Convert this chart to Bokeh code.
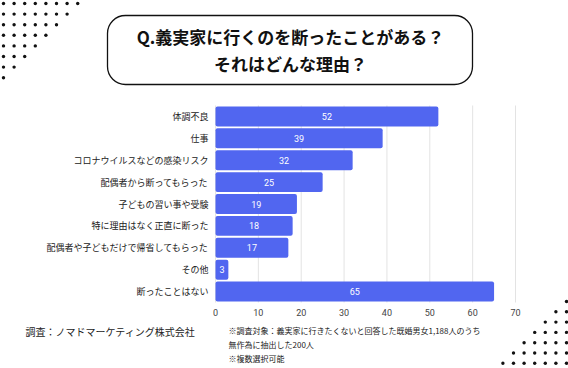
from bokeh.plotting import figure
from bokeh.models import Range1d, FixedTicker, ColumnDataSource
from bokeh.core.properties import value
from bokeh.embed import file_html
from bokeh.resources import INLINE

categories = ["体調不良", "仕事", "コロナウイルスなどの感染リスク", "配偶者から断ってもらった",
              "子どもの習い事や受験", "特に理由はなく正直に断った",
              "配偶者や子どもだけで帰省してもらった", "その他", "断ったことはない"]
counts = [52, 39, 32, 25, 19, 18, 17, 3, 65]
x_ticks = [0, 10, 20, 30, 40, 50, 60, 70]

title_lines = ["Q.義実家に行くのを断ったことがある？", "それはどんな理由？"]
source_text = "調査：ノマドマーケティング株式会社"
notes = ["※調査対象：義実家に行きたくないと回答した既婚男女1,188人のうち",
         "無作為に抽出した200人",
         "※複数選択可能"]

W, H = 568, 368
FL, FR, FT, FB = 215, 515, 105, 302   # plot area in canvas px
XMAX = 70
NCAT = len(categories)
PITCH = (FB - FT) / NCAT
C0 = FT + PITCH / 2                     # centre of first category in px

# data ranges chosen so that the whole canvas is the frame
x_range = Range1d((0 - FL) * XMAX / (FR - FL), (W - FL) * XMAX / (FR - FL))
y_range = Range1d((H - C0) / PITCH, (0 - C0) / PITCH)   # index grows downward

p = figure(width=W, height=H, output_backend="svg", toolbar_location=None,
           x_range=x_range, y_range=y_range, min_border=0, title=None)
p.outline_line_color = None
p.background_fill_color = "white"
p.border_fill_color = "white"
p.grid.visible = False

def dx(px):
    return (px - FL) * XMAX / (FR - FL)

def dy(py):
    return (py - C0) / PITCH

idx = list(range(NCAT))
src = ColumnDataSource(dict(i=idx, val=counts, mid=[v / 2 for v in counts],
                            lab=[str(v) for v in counts]))

# grid lines at the ticks, spanning the category band
p.segment(x0=x_ticks, x1=x_ticks, y0=[-0.5] * len(x_ticks), y1=[NCAT - 0.5] * len(x_ticks),
          line_color="#e3e3e3", line_width=1)

p.hbar(y="i", right="val", left=0, height=0.91, source=src,
       fill_color="#5166F0", line_color=None, border_radius=2)
p.text(x="mid", y="i", text="lab", source=src, text_color="white",
       text_font=value("Roboto"), text_font_size="9px", text_align="center",
       text_baseline="middle")

xa = p.xaxis[0]
xa.fixed_location = NCAT - 0.5
xa.ticker = FixedTicker(ticks=x_ticks)
xa.axis_line_color = None
xa.major_tick_line_color = None
xa.minor_tick_line_color = None
xa.major_tick_out = 0
xa.major_tick_in = 0
xa.major_label_standoff = 6
xa.major_label_text_font = "Roboto"
xa.major_label_text_font_size = "9px"
xa.major_label_text_color = "#444444"

ya = p.yaxis[0]
ya.fixed_location = 0
ya.ticker = FixedTicker(ticks=idx)
ya.major_label_overrides = {i: c for i, c in zip(idx, categories)}
ya.axis_line_color = None
ya.major_tick_line_color = None
ya.minor_tick_line_color = None
ya.major_tick_out = 0
ya.major_tick_in = 0
ya.major_label_standoff = 7
ya.major_label_text_font = "Noto Sans CJK JP"
ya.major_label_text_font_size = "9px"
ya.major_label_text_color = "#222222"

# title box
p.quad(left=[dx(107)], right=[dx(472)], top=[dy(15)], bottom=[dy(84)],
       fill_color="white", line_color="#111111", line_width=1.3, border_radius=18)
p.text(x=[dx(290)] * 2, y=[dy(36), dy(63)], text=title_lines,
       text_font=value("Noto Sans CJK JP"), text_font_style="bold",
       text_font_size="17px", text_align="center", text_baseline="middle",
       text_color="#111111")

# footer
p.text(x=[dx(25)], y=[dy(331)], text=[source_text],
       text_font=value("Noto Sans CJK JP"), text_font_size="10px",
       text_baseline="middle", text_color="#222222")
p.text(x=[dx(228)] * len(notes), y=[dy(330 + 14 * k) for k in range(len(notes))], text=notes,
       text_font=value("Noto Sans CJK JP"), text_font_size="8px",
       text_baseline="middle", text_color="#222222")

# decorative dot triangles
dxs, dys = [], []
for r in range(8):
    for c in range(8 - r):
        dxs.append(dx(3 + 10.6 * c)); dys.append(dy(3 + 10.6 * r))
for r in range(8):
    for c in range(r + 1):
        dxs.append(dx(566 - 10.6 * c)); dys.append(dy(301 + 10.3 * r))
p.scatter(x=dxs, y=dys, size=3.4, fill_color="#111111", line_color=None)

open("out.html", "w").write(file_html(p, INLINE))
